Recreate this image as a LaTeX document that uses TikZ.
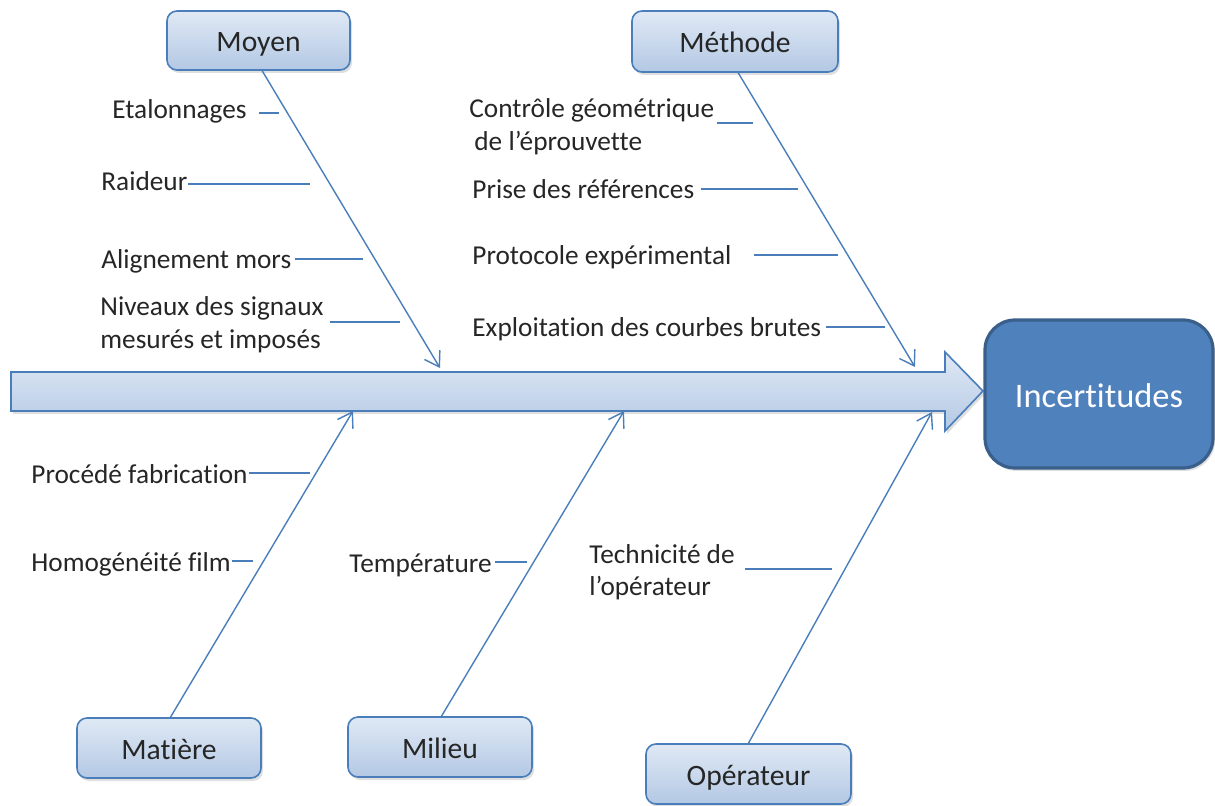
\documentclass[tikz,border=0pt]{standalone}
\usepackage{fontspec}
\setmainfont[Ligatures=NoCommon]{Carlito}
\usetikzlibrary{arrows.meta,shadows}
\definecolor{bonec}{HTML}{4A7EBB}
\definecolor{boxtop}{HTML}{E0E9F5}
\definecolor{boxbot}{HTML}{B3C8E4}
\definecolor{incfill}{HTML}{4F81BD}
\definecolor{incdraw}{HTML}{3A5F8B}
\definecolor{txt}{HTML}{262626}
\tikzset{
  x=0.5pt, y=-0.5pt,
  catbox/.style={draw=bonec, line width=0.8pt, rounded corners=5pt,
    top color=boxtop, bottom color=boxbot, text=txt,
    font=\fontsize{14.8}{17}\selectfont, inner sep=0pt,
    text height=12pt, text depth=0.5pt,
    drop shadow={opacity=0.25, shadow xshift=1pt, shadow yshift=-1.5pt}},
  lbl/.style={anchor=base west, inner sep=0pt, text=txt, font=\fontsize{13.65}{17}\selectfont},
  bone/.style={draw=bonec, line width=0.7pt, -{Straight Barb[length=7pt,width=9pt]}},
  twig/.style={draw=bonec, line width=0.6pt},
}
\begin{document}
\begin{tikzpicture}
\useasboundingbox (0,0) rectangle (1215,806);
% spine arrow
\path[draw=bonec, line width=0.8pt, top color=boxtop, bottom color=boxbot,
  drop shadow={opacity=0.25, shadow xshift=1pt, shadow yshift=-1.5pt}]
  (11,372) -- (945,372) -- (945,352) -- (983,391) -- (945,431) -- (945,411) -- (11,411) -- cycle;
% effect
\node[draw=incdraw, line width=1.6pt, fill=incfill, rounded corners=15pt,
  minimum width=114pt, minimum height=74pt, inner sep=0pt, text=white,
  font=\fontsize{17.2}{20}\selectfont, text height=14.5pt, text depth=0.5pt,
  drop shadow={opacity=0.25, shadow xshift=1pt, shadow yshift=-1.5pt}]
  (inc) at (1099,394) {Incertitudes};
% category boxes
\node[catbox, minimum width=91.5pt, minimum height=29.5pt] (moyen) at (258.5,40.5) {Moyen};
\node[catbox, minimum width=103pt, minimum height=30.5pt] (methode) at (735,41.5) {Méthode};
\node[catbox, minimum width=92pt, minimum height=30pt] (matiere) at (169,748) {Matière};
\node[catbox, minimum width=92pt, minimum height=30pt] (milieu) at (440,747) {Milieu};
\node[catbox, minimum width=102.5pt, minimum height=30pt] (operateur) at (748.5,774) {Opérateur};
% spine coordinates
\coordinate (tmoyen) at (440,368);
\coordinate (tmethode) at (915,367);
\coordinate (tmatiere) at (353,411);
\coordinate (tmilieu) at (624,411);
\coordinate (toperateur) at (932,412);
\coordinate (smoyen) at (262,70.5);
\coordinate (smethode) at (738,72.5);
\coordinate (smatiere) at (170,718);
\coordinate (smilieu) at (441,717);
\coordinate (soperateur) at (748,744);
\draw[bone] (smoyen) -- (tmoyen);
\draw[bone] (smethode) -- (tmethode);
\draw[bone] (smatiere) -- (tmatiere);
\draw[bone] (smilieu) -- (tmilieu);
\draw[bone] (soperateur) -- (toperateur);
% Moyen causes
\node[lbl] (etal) at (112,119) {Etalonnages};
\node[lbl] (raid) at (101,191) {Raideur};
\node[lbl] (alig) at (101,269) {Alignement mors};
\node[lbl] (niv1) at (100,316) {Niveaux des signaux};
\node[lbl] (niv2) at (100,349) {mesurés et imposés};
\coordinate (a1) at (259,113); \coordinate (b1) at (279,113);
\coordinate (a2) at (188,184); \coordinate (b2) at (310,184);
\coordinate (a3) at (295,259); \coordinate (b3) at (363,259);
\coordinate (a4) at (330,322); \coordinate (b4) at (400,322);
\draw[twig] (a1) -- (b1);
\draw[twig] (a2) -- (b2);
\draw[twig] (a3) -- (b3);
\draw[twig] (a4) -- (b4);
% Méthode causes
\node[lbl] (ctrl1) at (469,118) {Contrôle géométrique};
\node[lbl] (ctrl2) at (474,151) {de l’éprouvette};
\node[lbl] (prise) at (472,199) {Prise des références};
\node[lbl] (proto) at (472,265) {Protocole expérimental};
\node[lbl] (expl) at (472,337) {Exploitation des courbes brutes};
\coordinate (a5) at (717,123); \coordinate (b5) at (753,123);
\coordinate (a6) at (701,189); \coordinate (b6) at (798,189);
\coordinate (a7) at (754,255); \coordinate (b7) at (838,255);
\coordinate (a8) at (826,327); \coordinate (b8) at (885,327);
\draw[twig] (a5) -- (b5);
\draw[twig] (a6) -- (b6);
\draw[twig] (a7) -- (b7);
\draw[twig] (a8) -- (b8);
% Matière causes
\node[lbl] (proc) at (31,484) {Procédé fabrication};
\node[lbl] (homo) at (31,572) {Homogénéité film};
\coordinate (a9) at (249,473); \coordinate (b9) at (310,473);
\coordinate (a10) at (232,561); \coordinate (b10) at (253,561);
\draw[twig] (a9) -- (b9);
\draw[twig] (a10) -- (b10);
% Milieu causes
\node[lbl] (temp) at (349,573) {Température};
\coordinate (a11) at (495,562); \coordinate (b11) at (527,562);
\draw[twig] (a11) -- (b11);
% Opérateur causes
\node[lbl] (tech1) at (589,564) {Technicité de};
\node[lbl] (tech2) at (589,596) {l’opérateur};
\coordinate (a12) at (745,569); \coordinate (b12) at (832,569);
\draw[twig] (a12) -- (b12);
\end{tikzpicture}
\end{document}
